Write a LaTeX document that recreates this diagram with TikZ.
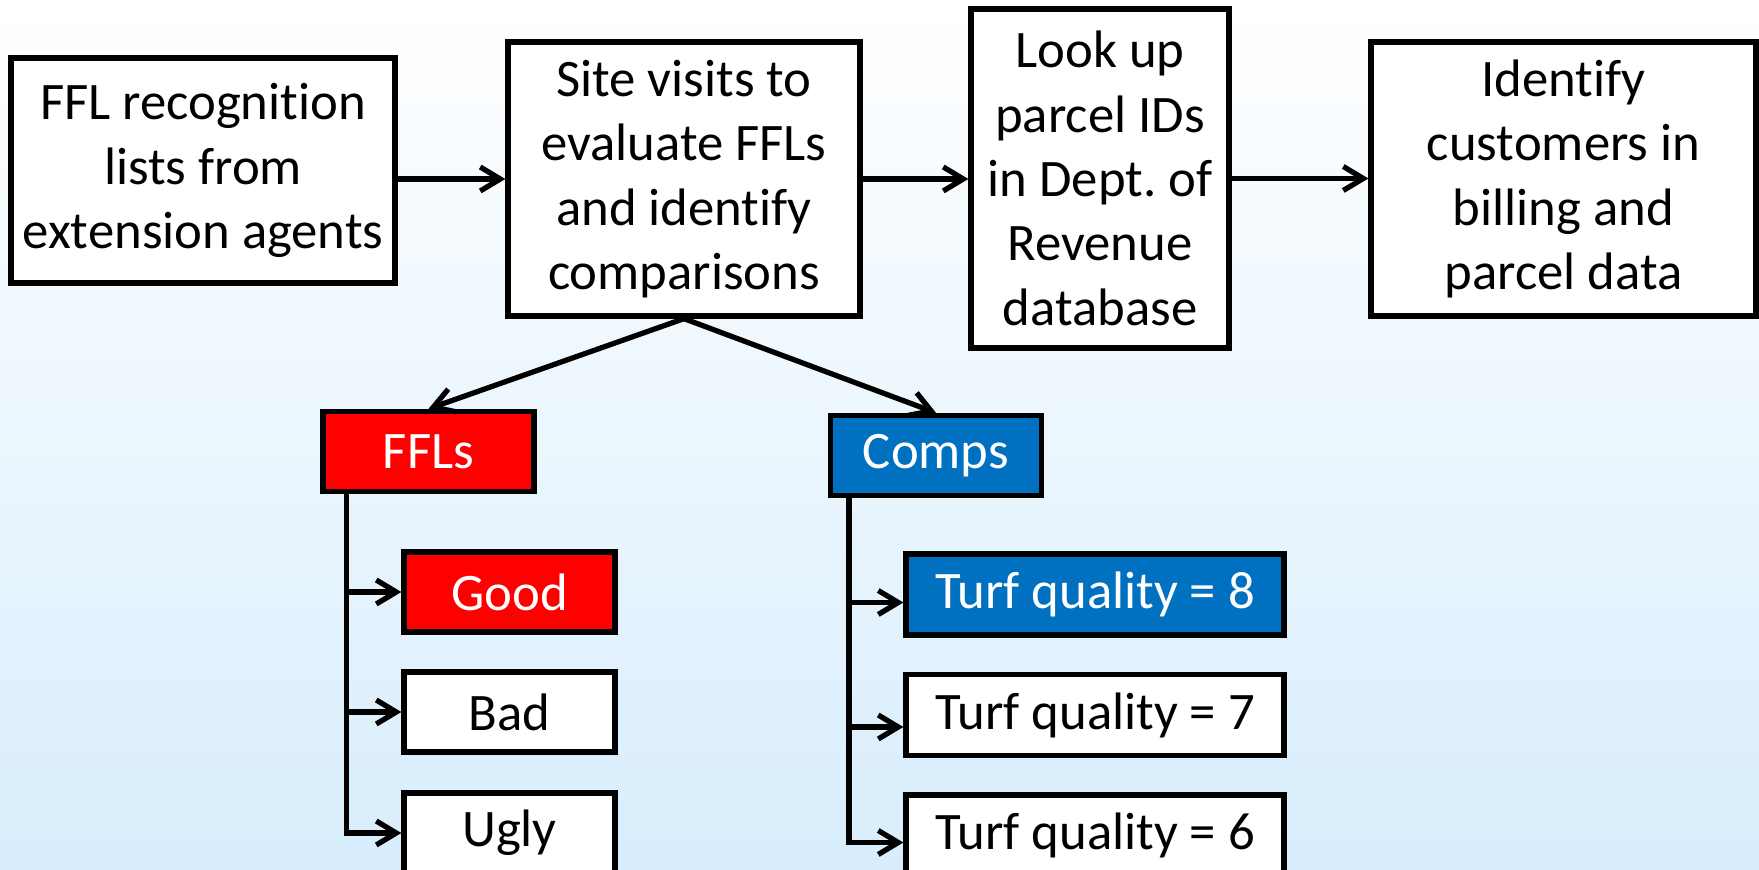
\documentclass[tikz,border=0pt]{standalone}
\usepackage{fontspec}
\setmainfont{Carlito}[Ligatures=NoCommon]
\usetikzlibrary{arrows.meta}
\definecolor{fflred}{RGB}{255,0,0}
\definecolor{compblue}{RGB}{0,112,192}
\definecolor{bgblue}{RGB}{216,237,252}
\frenchspacing

\begin{document}
\begin{tikzpicture}[
    box/.style={draw, line width=1.5pt, fill=white, align=center, inner sep=0pt, font=\fontsize{15pt}{18.3pt}\selectfont},
    tag/.style={box, minimum width=2.11cm, minimum height=0.8cm},
    quality/.style={box, minimum width=3.78cm, minimum height=0.81cm},
    flow/.style={-{Straight Barb[length=2mm, width=2.4mm]}, line width=1.5pt}
]
\shade[top color=white, bottom color=bgblue] (0,0) rectangle (17.59,8.70);
\useasboundingbox (0,0) rectangle (17.59,8.70);

\node[box, minimum width=3.84cm, minimum height=2.25cm] (ffl) at (2.03,6.995) {FFL recognition\\lists from\\extension agents};
\node[box, minimum width=3.52cm, minimum height=2.74cm] (site) at (6.84,6.91) {Site visits to\\evaluate FFLs\\and identify\\comparisons};
\node[box, minimum width=2.58cm, minimum height=3.39cm] (lookup) at (11.00,6.915) {Look up\\parcel IDs\\in Dept. of\\Revenue\\database};
\node[box, minimum width=3.85cm, minimum height=2.74cm] (ident) at (15.635,6.91) {Identify\\customers in\\billing and\\parcel data};

\node[tag, fill=fflred, text=white] (ffls) at (4.285,4.185) {FFLs};
\node[tag, fill=compblue, text=white] (comps) at (9.36,4.145) {Comps};

\node[tag, fill=fflred, text=white] (good) at (5.095,2.78) {Good};
\node[tag] (bad) at (5.095,1.58) {Bad};
\node[tag] (ugly) at (5.095,0.37) {Ugly};

\node[quality, fill=compblue, text=white] (q8) at (10.95,2.755) {Turf quality = 8};
\node[quality] (q7) at (10.95,1.55) {Turf quality = 7};
\node[quality] (q6) at (10.95,0.345) {Turf quality = 6};

\draw[flow] (ffl.east |- site.west) -- (site.west);
\draw[flow] (site.east) -- (site.east -| lookup.west);
\draw[flow] (lookup.east) -- (lookup.east -| ident.west);

\draw[flow] (site.south) -- (ffls.north);
\draw[flow] (site.south) -- (comps.north);

\draw[flow] ([xshift=0.26cm]ffls.south west) |- (good.west);
\draw[flow] ([xshift=0.26cm]ffls.south west) |- (bad.west);
\draw[flow] ([xshift=0.26cm]ffls.south west) |- (ugly.west);

\draw[flow] ([xshift=0.21cm]comps.south west) |- ([yshift=-0.08cm]q8.west);
\draw[flow] ([xshift=0.21cm]comps.south west) |- ([yshift=-0.12cm]q7.west);
\draw[flow] ([xshift=0.21cm]comps.south west) |- ([yshift=-0.07cm]q6.west);
\end{tikzpicture}
\end{document}
